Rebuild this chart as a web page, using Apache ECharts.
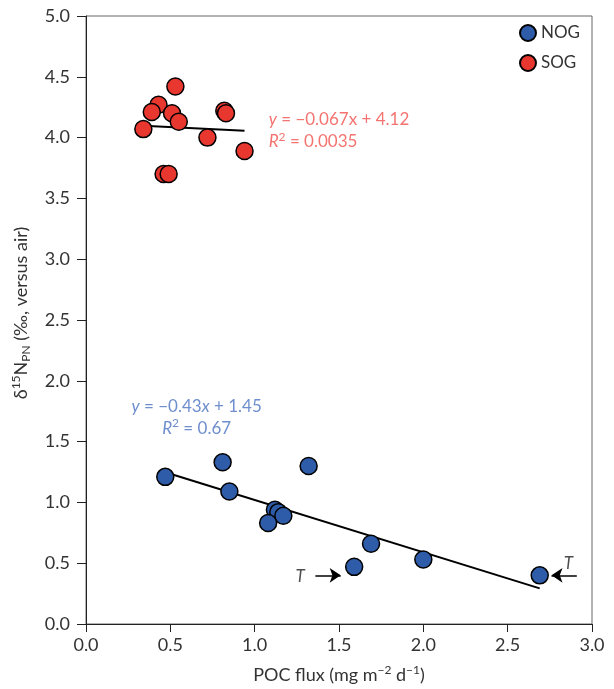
<!DOCTYPE html>
<html><head><meta charset="utf-8">
<script src="https://cdn.jsdelivr.net/npm/echarts@6/dist/echarts.min.js"></script>
<style>html,body{margin:0;padding:0;background:#fff}#c{width:614px;height:689px}</style>
</head><body><div id="c"></div>
<script>
// Data
var nogX = [0.47, 0.81, 0.85, 1.32, 1.12, 1.14, 1.17, 1.08, 1.69, 1.59, 2.00, 2.69];
var nogY = [1.21, 1.33, 1.09, 1.30, 0.94, 0.92, 0.89, 0.83, 0.66, 0.47, 0.53, 0.40];
var sogX = [0.53, 0.43, 0.39, 0.51, 0.55, 0.34, 0.72, 0.82, 0.83, 0.94, 0.46, 0.49];
var sogY = [4.42, 4.27, 4.21, 4.20, 4.13, 4.07, 4.00, 4.22, 4.20, 3.89, 3.70, 3.70];
var nogFit = [[0.47, 1.248], [2.69, 0.293]];
var sogFit = [[0.34, 4.097], [0.94, 4.057]];
var arrowLeft = [[1.36, 0.40], [1.51, 0.40]];
var arrowRight = [[2.91, 0.40], [2.76, 0.40]];
var xTicks = [0, 0.5, 1.0, 1.5, 2.0, 2.5, 3.0];
var yTicks = [0, 0.5, 1.0, 1.5, 2.0, 2.5, 3.0, 3.5, 4.0, 4.5, 5.0];

var FONT = 'Lato';
var RED = '#e8372f', BLUE = '#2e5ca8';
var RED_T = '#f0504c', BLUE_T = '#4a72c0';

function pairs(xs, ys) { return xs.map(function (x, i) { return [x, ys[i]]; }); }

function richSet(sz, lh) {
  return {
    i: { fontStyle: 'italic', fontSize: sz, fontFamily: FONT, lineHeight: lh },
    n: { fontSize: sz, fontFamily: FONT, lineHeight: lh },
    s: { fontSize: Math.round(sz * 0.68), fontFamily: FONT, verticalAlign: 'top', lineHeight: Math.round(sz * 0.68) },
    b: { fontSize: Math.round(sz * 0.68), fontFamily: FONT, verticalAlign: 'bottom', lineHeight: Math.round(sz * 0.68) }
  };
}
var noteRich = richSet(17, 22);

var chart = echarts.init(document.getElementById('c'), null, { renderer: 'canvas' });
chart.setOption({
  animation: false,
  backgroundColor: '#fff',
  grid: { left: 86, right: 22, top: 16, bottom: 63, show: true, borderColor: '#666', borderWidth: 1, backgroundColor: 'transparent' },
  legend: {
    data: ['NOG', 'SOG'], orient: 'vertical', right: 29, top: 19,
    icon: 'circle', itemWidth: 16, itemHeight: 16, itemGap: 12,
    textStyle: { fontFamily: FONT, fontSize: 17, color: '#333' }
  },
  xAxis: {
    type: 'value', min: 0, max: 3, interval: 0.5,
    axisLine: { onZero: false, lineStyle: { color: '#222', width: 1 } },
    axisTick: { length: 8, lineStyle: { color: '#222' } },
    splitLine: { show: false },
    axisLabel: { fontFamily: FONT, fontSize: 18, color: '#333', margin: 12, formatter: function (v) { return v.toFixed(1); } },
    name: '{n|POC flux (mg m}{s|−2}{n| d}{s|−1}{n|)}',
    nameLocation: 'middle', nameGap: 40,
    nameTextStyle: { fontSize: 18, fontFamily: FONT, color: '#333', rich: richSet(18, 22) }
  },
  yAxis: {
    type: 'value', min: 0, max: 5, interval: 0.5,
    axisLine: { onZero: false, lineStyle: { color: '#222', width: 1 } },
    axisTick: { length: 9, lineStyle: { color: '#222' } },
    splitLine: { show: false },
    axisLabel: { fontFamily: FONT, fontSize: 18, color: '#333', margin: 16, formatter: function (v) { return v.toFixed(1); } },
    name: '{n|δ}{s|15}{n|N}{b|PN}{n| (‰, versus air)}',
    nameLocation: 'middle', nameGap: 54,
    nameTextStyle: { fontSize: 18, fontFamily: FONT, color: '#333', rich: richSet(18, 22), padding: [0, 0, 0, 14] }
  },
  series: [
    {
      name: 'fitN', type: 'line', data: nogFit, symbol: 'none', silent: true,
      lineStyle: { color: '#000', width: 2 }, z: 2,
      markLine: {
        silent: true, symbol: ['none', 'arrow'], symbolSize: 11,
        lineStyle: { color: '#000', width: 1.5, type: 'solid' },
        label: { show: false },
        emphasis: { disabled: true },
        data: [
          [{ coord: arrowLeft[0] }, { coord: arrowLeft[1] }],
          [{ coord: arrowRight[0] }, { coord: arrowRight[1] }]
        ]
      }
    },
    {
      name: 'fitS', type: 'line', data: sogFit, symbol: 'none', silent: true,
      lineStyle: { color: '#000', width: 2 }, z: 2
    },
    {
      name: 'NOG', type: 'scatter', data: pairs(nogX, nogY), symbolSize: 17, z: 3,
      itemStyle: { color: BLUE, borderColor: '#000', borderWidth: 1.5, opacity: 1 }
    },
    {
      name: 'SOG', type: 'scatter', data: pairs(sogX, sogY), symbolSize: 17, z: 3,
      itemStyle: { color: RED, borderColor: '#000', borderWidth: 1.5, opacity: 1 }
    },
    {
      name: 'notes', type: 'scatter', symbolSize: 1, silent: true, z: 4,
      itemStyle: { color: 'rgba(0,0,0,0)' },
      data: [
        { value: [1.08, 4.055], label: { show: true, position: 'right', distance: 0, align: 'left', color: RED_T, rich: noteRich,
            formatter: '{i|y}{n| = −0.067x + 4.12}\n{i|R}{s|2}{n| = 0.0035}' } },
        { value: [0.656, 1.70], label: { show: true, position: 'inside', align: 'center', color: BLUE_T, rich: noteRich,
            formatter: '{i|y}{n| = −0.43}{i|x}{n| + 1.45}\n{i|R}{s|2}{n| = 0.67}' } },
        { value: [1.27, 0.39], label: { show: true, position: 'inside', align: 'center', color: '#222', rich: noteRich,
            formatter: '{i|T}' } },
        { value: [2.86, 0.50], label: { show: true, position: 'inside', align: 'center', color: '#222', rich: noteRich,
            formatter: '{i|T}' } }
      ]
    }
  ]
});
</script></body></html>
